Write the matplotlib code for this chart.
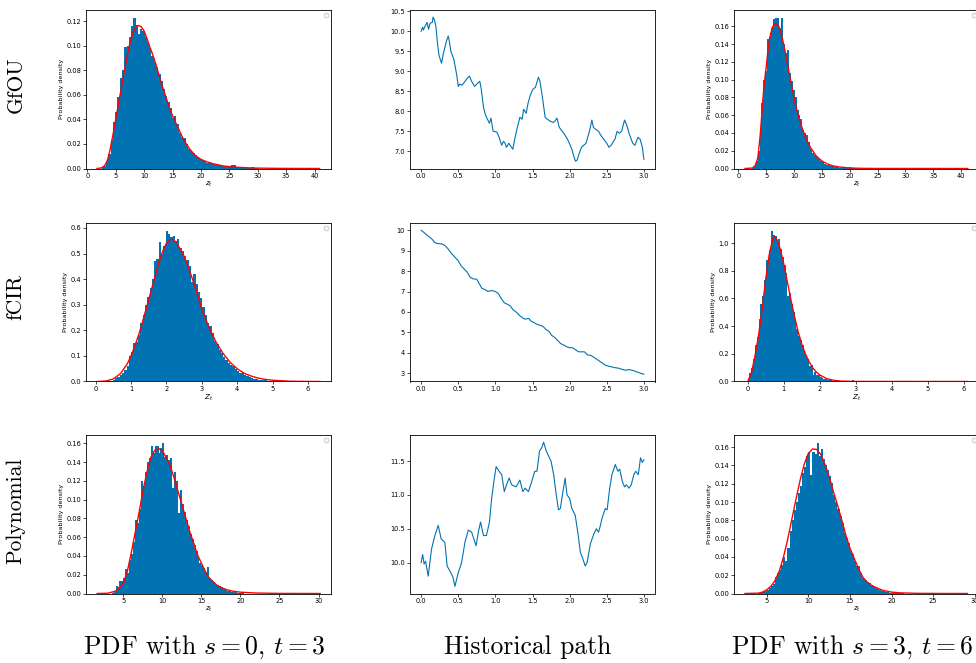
import numpy as np
import matplotlib
matplotlib.use("Agg")
import matplotlib.pyplot as plt
from matplotlib.ticker import MultipleLocator

BLUE = '#0173B2'

# ---- GfOU, PDF s=0 t=3 ----
gfou0_start, gfou0_width = 2.5, 0.4
gfou0_hist = [0.001, 0.002, 0.006, 0.012, 0.023, 0.038, 0.046, 0.058, 0.074, 0.080,
              0.099, 0.100, 0.107, 0.116, 0.123, 0.117, 0.110, 0.114, 0.112, 0.107,
              0.103, 0.098, 0.092, 0.087, 0.083, 0.077, 0.071, 0.065, 0.059, 0.054,
              0.049, 0.041, 0.043, 0.036, 0.029, 0.026, 0.025, 0.020, 0.016, 0.014,
              0.013, 0.011, 0.0095, 0.008, 0.007, 0.006, 0.0045, 0.005, 0.004, 0.0035,
              0.003, 0.0025, 0.0022, 0.002, 0.0018, 0.0017, 0.0022, 0.0032, 0.0028, 0.0012,
              0.001, 0.0008, 0.0006, 0.0005, 0.0004, 0.0006, 0.0009, 0.0003, 0.0002]
gfou0_x = [1.7, 2.5, 3.0, 3.5, 4.0, 4.5, 5.0, 5.5, 6.0, 6.5, 7.0, 7.5, 8.0, 8.5, 9.0,
           9.5, 10.0, 10.5, 11.0, 11.5, 12.0, 12.5, 13.0, 13.5, 14.0, 14.5, 15.0, 16.0,
           17.0, 18.0, 19.0, 20.0, 21.0, 22.0, 24.0, 26.0, 28.0, 30.0, 34.0, 40.9]
gfou0_pdf = [0.0, 0.0005, 0.002, 0.006, 0.015, 0.027, 0.040, 0.053, 0.066, 0.079, 0.091,
             0.102, 0.110, 0.115, 0.1165, 0.1155, 0.112, 0.106, 0.099, 0.093, 0.086,
             0.078, 0.070, 0.063, 0.056, 0.049, 0.043, 0.033, 0.023, 0.016, 0.0105,
             0.0075, 0.0055, 0.004, 0.002, 0.0011, 0.0006, 0.0003, 0.0001, 0.0]

# ---- GfOU, PDF s=3 t=6 ----
gfou3_start, gfou3_width = 2.4, 0.35
gfou3_hist = [0.001, 0.003, 0.008, 0.020, 0.040, 0.074, 0.100, 0.110, 0.146, 0.148,
              0.158, 0.168, 0.170, 0.170, 0.158, 0.170, 0.140, 0.130, 0.133, 0.108,
              0.098, 0.088, 0.080, 0.066, 0.060, 0.056, 0.043, 0.040, 0.038, 0.030,
              0.022, 0.018, 0.015, 0.013, 0.011, 0.009, 0.007, 0.005, 0.0045, 0.004,
              0.003, 0.0028, 0.002, 0.0018, 0.0015, 0.001, 0.0012, 0.002, 0.0008, 0.0006,
              0.0012, 0.0004, 0.0003, 0.0002]
gfou3_x = [1.2, 2.5, 3.0, 3.5, 3.9, 4.2, 4.5, 4.8, 5.1, 5.4, 5.8, 6.2, 6.7, 7.2, 7.7,
           8.2, 8.7, 9.2, 9.7, 10.2, 10.7, 11.2, 12.0, 13.0, 14.0, 15.0, 16.0, 17.0,
           18.0, 20.0, 22.0, 25.0, 41.2]
gfou3_pdf = [0.0, 0.0005, 0.003, 0.012, 0.036, 0.060, 0.085, 0.104, 0.120, 0.138, 0.152,
             0.160, 0.1635, 0.161, 0.152, 0.138, 0.122, 0.105, 0.089, 0.074, 0.061,
             0.050, 0.036, 0.023, 0.014, 0.0085, 0.005, 0.003, 0.0018, 0.0006, 0.0002,
             0.00005, 0.0]

gfou_t = [0.0, 0.02, 0.03, 0.06, 0.08, 0.10, 0.12, 0.15, 0.16, 0.18, 0.20, 0.22, 0.24,
          0.275, 0.30, 0.32, 0.34, 0.365, 0.38, 0.40, 0.44, 0.46, 0.48, 0.50, 0.52, 0.55,
          0.58, 0.62, 0.65, 0.68, 0.72, 0.76, 0.79, 0.81, 0.84, 0.86, 0.88, 0.92, 0.94,
          0.97, 1.02, 1.05, 1.085, 1.11, 1.13, 1.15, 1.18, 1.21, 1.235, 1.26, 1.29, 1.33,
          1.36, 1.38, 1.415, 1.44, 1.47, 1.505, 1.54, 1.58, 1.60, 1.63, 1.67, 1.70, 1.74,
          1.78, 1.80, 1.83, 1.86, 1.90, 1.94, 1.985, 2.03, 2.06, 2.08, 2.10, 2.13, 2.16,
          2.19, 2.22, 2.26, 2.30, 2.32, 2.35, 2.39, 2.42, 2.46, 2.50, 2.53, 2.56, 2.59,
          2.61, 2.64, 2.67, 2.70, 2.74, 2.77, 2.80, 2.85, 2.88, 2.92, 2.95, 2.98, 3.0]
gfou_path = [10.0, 10.1, 10.03, 10.15, 10.22, 10.05, 10.2, 10.22, 10.35, 10.28, 10.1,
             9.7, 9.4, 9.2, 9.45, 9.6, 9.75, 9.88, 9.75, 9.5, 9.3, 9.1, 8.9, 8.62, 8.68,
             8.65, 8.72, 8.82, 8.88, 8.75, 8.62, 8.7, 8.75, 8.55, 8.1, 7.95, 7.85, 7.7,
             7.83, 7.5, 7.48, 7.35, 7.15, 7.25, 7.2, 7.1, 7.2, 7.12, 7.05, 7.3, 7.55, 7.85,
             7.8, 8.05, 7.95, 8.2, 8.4, 8.55, 8.6, 8.85, 8.75, 8.4, 7.85, 7.8, 7.75, 7.72,
             7.75, 7.83, 7.6, 7.5, 7.4, 7.25, 7.05, 6.85, 6.75, 6.78, 6.95, 7.1, 7.15,
             7.2, 7.45, 7.78, 7.6, 7.55, 7.5, 7.4, 7.3, 7.2, 7.1, 7.15, 7.25, 7.3, 7.5,
             7.45, 7.5, 7.78, 7.65, 7.45, 7.2, 7.15, 7.35, 7.3, 7.1, 6.8]

# ---- fCIR ----
fcir0_start, fcir0_width = 0.42, 0.065
fcir0_hist = [0.003, 0.006, 0.012, 0.018, 0.025, 0.032, 0.045, 0.06, 0.10, 0.115,
              0.15, 0.155, 0.18, 0.23, 0.26, 0.30, 0.33, 0.365, 0.40, 0.47,
              0.48, 0.545, 0.50, 0.53, 0.59, 0.575, 0.565, 0.57, 0.548, 0.558,
              0.52, 0.51, 0.49, 0.475, 0.45, 0.39, 0.42, 0.38, 0.35, 0.325,
              0.29, 0.26, 0.23, 0.215, 0.19, 0.16, 0.145, 0.125, 0.11, 0.095,
              0.085, 0.072, 0.064, 0.06, 0.05, 0.04, 0.034, 0.036, 0.024, 0.02,
              0.016, 0.013, 0.011, 0.009, 0.007, 0.007, 0.005, 0.004, 0.003, 0.002]
fcir0_x = [0.045, 0.3, 0.5, 0.7, 0.9, 1.0, 1.1, 1.2, 1.3, 1.4, 1.5, 1.6, 1.7, 1.8, 1.9,
           2.0, 2.1, 2.2, 2.3, 2.4, 2.5, 2.6, 2.7, 2.8, 2.9, 3.0, 3.2, 3.4, 3.6, 3.8,
           4.0, 4.2, 4.4, 4.6, 4.8, 5.0, 5.5, 6.34]
fcir0_pdf = [0.0, 0.002, 0.01, 0.03, 0.07, 0.10, 0.135, 0.175, 0.22, 0.27, 0.32, 0.37,
             0.42, 0.47, 0.51, 0.54, 0.555, 0.555, 0.54, 0.515, 0.49, 0.455, 0.415, 0.375,
             0.33, 0.285, 0.212, 0.155, 0.11, 0.075, 0.05, 0.032, 0.021, 0.013, 0.008,
             0.005, 0.001, 0.0]

fcir3_start, fcir3_width = 0.0, 0.05
fcir3_hist = [0.01, 0.06, 0.10, 0.16, 0.26, 0.32, 0.45, 0.56, 0.62, 0.73,
              0.88, 0.89, 0.95, 1.09, 1.06, 1.05, 1.00, 1.03, 0.96, 0.90,
              0.84, 0.78, 0.62, 0.64, 0.56, 0.50, 0.44, 0.38, 0.33, 0.30,
              0.26, 0.22, 0.19, 0.16, 0.11, 0.12, 0.05, 0.07, 0.05, 0.045,
              0.035, 0.028, 0.02, 0.018, 0.012, 0.01, 0.008, 0.006, 0.004, 0.003,
              0.002, 0.002, 0.001, 0.001, 0.0, 0.0, 0.0, 0.0, 0.008]
fcir3_x = [0.0, 0.1, 0.2, 0.3, 0.4, 0.5, 0.6, 0.7, 0.75, 0.8, 0.9, 1.0, 1.1, 1.2, 1.3,
           1.4, 1.5, 1.6, 1.7, 1.8, 1.9, 2.0, 2.2, 2.4, 2.6, 3.0, 6.1]
fcir3_pdf = [0.0, 0.058, 0.18, 0.33, 0.52, 0.74, 0.92, 1.035, 1.045, 1.03, 0.96, 0.85,
             0.72, 0.59, 0.47, 0.36, 0.27, 0.20, 0.145, 0.10, 0.07, 0.047, 0.02, 0.008,
             0.003, 0.0005, 0.0]

fcir_t = [0.0, 0.05, 0.10, 0.15, 0.18, 0.22, 0.28, 0.32, 0.36, 0.40, 0.45, 0.50, 0.54,
          0.58, 0.62, 0.66, 0.70, 0.75, 0.78, 0.82, 0.86, 0.90, 0.95, 1.00, 1.04, 1.08,
          1.12, 1.16, 1.20, 1.24, 1.28, 1.32, 1.36, 1.40, 1.45, 1.48, 1.52, 1.56, 1.60,
          1.64, 1.68, 1.72, 1.76, 1.80, 1.84, 1.88, 1.92, 1.96, 2.00, 2.04, 2.08, 2.12,
          2.16, 2.20, 2.24, 2.28, 2.32, 2.36, 2.40, 2.44, 2.48, 2.52, 2.56, 2.60, 2.66,
          2.70, 2.75, 2.80, 2.84, 2.88, 2.92, 2.96, 3.00]
fcir_path = [10.0, 9.85, 9.7, 9.55, 9.4, 9.35, 9.33, 9.25, 9.1, 8.9, 8.7, 8.5, 8.25,
             8.1, 7.95, 7.7, 7.62, 7.6, 7.4, 7.15, 7.1, 7.0, 7.05, 7.0, 6.9, 6.65, 6.45,
             6.38, 6.3, 6.1, 6.0, 5.85, 5.72, 5.65, 5.68, 5.55, 5.48, 5.4, 5.35, 5.3,
             5.15, 5.05, 4.85, 4.75, 4.6, 4.45, 4.38, 4.3, 4.25, 4.25, 4.15, 4.05, 4.05,
             4.05, 3.9, 3.88, 3.8, 3.7, 3.6, 3.5, 3.4, 3.35, 3.32, 3.28, 3.25, 3.2, 3.15,
             3.18, 3.15, 3.1, 3.05, 3.0, 2.95]

# ---- Polynomial ----
poly0_start, poly0_width = 3.5, 0.25
poly0_hist = [0.001, 0.003, 0.008, 0.007, 0.013, 0.013, 0.017, 0.026, 0.022, 0.036,
              0.042, 0.055, 0.078, 0.075, 0.090, 0.120, 0.115, 0.130, 0.140, 0.145,
              0.157, 0.150, 0.157, 0.157, 0.150, 0.155, 0.161, 0.146, 0.148, 0.142,
              0.145, 0.112, 0.130, 0.120, 0.086, 0.110, 0.095, 0.087, 0.078, 0.072,
              0.063, 0.058, 0.052, 0.045, 0.038, 0.033, 0.030, 0.027, 0.023, 0.028,
              0.016, 0.014, 0.012, 0.010, 0.009, 0.008, 0.007, 0.006, 0.004, 0.003,
              0.003, 0.002, 0.002, 0.0015, 0.001, 0.001, 0.0008, 0.0005]
poly0_x = [1.64, 3.0, 4.0, 4.5, 5.0, 5.5, 6.0, 6.5, 7.0, 7.5, 8.0, 8.5, 9.0, 9.5, 10.0,
           10.5, 11.0, 11.5, 12.0, 12.5, 13.0, 13.5, 14.0, 14.5, 15.0, 15.5, 16.0, 17.0,
           18.0, 19.0, 20.0, 22.0, 25.0, 30.2]
poly0_pdf = [0.0, 0.0003, 0.0025, 0.006, 0.011, 0.0235, 0.043, 0.0645, 0.086, 0.109,
             0.129, 0.1447, 0.1525, 0.1547, 0.152, 0.1447, 0.136, 0.1233, 0.109, 0.0948,
             0.0805, 0.066, 0.054, 0.041, 0.0324, 0.0235, 0.0164, 0.0086, 0.0046, 0.0025,
             0.0014, 0.0005, 0.0001, 0.0]

poly3_start, poly3_width = 4.0, 0.25
poly3_hist = [0.0005, 0.001, 0.002, 0.003, 0.004, 0.006, 0.008, 0.010, 0.018, 0.022,
              0.026, 0.031, 0.040, 0.036, 0.050, 0.068, 0.080, 0.091, 0.100, 0.110,
              0.118, 0.132, 0.138, 0.150, 0.155, 0.130, 0.155, 0.153, 0.165, 0.150,
              0.158, 0.147, 0.140, 0.135, 0.128, 0.121, 0.108, 0.100, 0.092, 0.085,
              0.077, 0.066, 0.061, 0.055, 0.046, 0.043, 0.036, 0.030, 0.030, 0.022,
              0.017, 0.015, 0.013, 0.011, 0.009, 0.008, 0.006, 0.005, 0.004, 0.003,
              0.0025, 0.002, 0.0015, 0.001, 0.001, 0.0008, 0.0005, 0.0004, 0.0006, 0.0003]
poly3_x = [2.4, 4.0, 4.5, 5.0, 5.5, 6.0, 6.5, 7.0, 7.5, 8.0, 8.5, 9.0, 9.5, 10.0, 10.5,
           11.0, 11.5, 12.0, 12.5, 13.0, 13.5, 14.0, 14.5, 15.0, 15.5, 16.0, 16.5, 17.0,
           17.5, 18.0, 19.0, 20.0, 21.0, 23.0, 26.0, 29.1]
poly3_pdf = [0.0, 0.0004, 0.0015, 0.004, 0.0077, 0.014, 0.024, 0.039, 0.058, 0.080,
             0.102, 0.123, 0.141, 0.153, 0.158, 0.1575, 0.152, 0.141, 0.128, 0.112,
             0.097, 0.081, 0.064, 0.0497, 0.0387, 0.0278, 0.0186, 0.013, 0.0095, 0.007,
             0.0033, 0.0015, 0.0007, 0.0002, 0.00003, 0.0]

poly_t = [0.0, 0.02, 0.04, 0.06, 0.095, 0.14, 0.185, 0.23, 0.27, 0.32, 0.35, 0.40, 0.43,
          0.455, 0.50, 0.545, 0.59, 0.635, 0.68, 0.74, 0.77, 0.80, 0.84, 0.88, 0.92,
          0.95, 0.98, 1.01, 1.05, 1.085, 1.12, 1.15, 1.185, 1.22, 1.28, 1.33, 1.37, 1.40,
          1.445, 1.49, 1.53, 1.56, 1.595, 1.625, 1.65, 1.685, 1.715, 1.75, 1.785, 1.82,
          1.85, 1.875, 1.91, 1.94, 1.965, 2.0, 2.03, 2.075, 2.11, 2.145, 2.18, 2.21,
          2.235, 2.28, 2.325, 2.36, 2.39, 2.415, 2.435, 2.48, 2.505, 2.54, 2.57, 2.615,
          2.65, 2.675, 2.71, 2.74, 2.765, 2.8, 2.83, 2.865, 2.89, 2.925, 2.955, 2.98, 3.0]
poly_path = [10.0, 10.12, 9.98, 10.02, 9.8, 10.2, 10.4, 10.55, 10.35, 10.3, 9.95, 9.85,
             9.78, 9.65, 9.85, 10.0, 10.3, 10.48, 10.45, 10.25, 10.45, 10.6, 10.4, 10.4,
             10.6, 10.95, 11.2, 11.42, 11.35, 11.3, 11.05, 11.15, 11.25, 11.15, 11.12,
             11.22, 11.05, 11.1, 11.05, 11.2, 11.35, 11.35, 11.65, 11.7, 11.78, 11.65,
             11.58, 11.5, 11.3, 11.0, 10.78, 10.8, 11.05, 11.25, 11.0, 10.95, 10.8, 10.7,
             10.45, 10.15, 10.05, 9.95, 10.0, 10.28, 10.42, 10.5, 10.45, 10.55, 10.65,
             10.8, 10.78, 11.1, 11.3, 11.45, 11.35, 11.38, 11.2, 11.12, 11.15, 11.1, 11.15,
             11.3, 11.35, 11.3, 11.55, 11.48, 11.52]

row_names = ['GfOU', 'fCIR', 'Polynomial']
col_titles = ['PDF with $s=0$, $t=3$', 'Historical path', 'PDF with $s=3$, $t=6$']


def style(ax, xstep, ystep):
    ax.xaxis.set_major_locator(MultipleLocator(xstep))
    ax.yaxis.set_major_locator(MultipleLocator(ystep))
    ax.tick_params(labelsize=4.8, length=2, width=0.5, pad=1.5)
    for s in ax.spines.values():
        s.set_linewidth(0.6)


def draw_hist(ax, start, width, heights, cx, cy, xlim, xstep, ystep, xlab):
    edges = start + width * np.arange(len(heights))
    ax.bar(edges, heights, width=width, align='edge', color=BLUE, linewidth=0)
    ax.plot(cx, cy, color='red', lw=1.0)
    ax.set_xlim(*xlim)
    ax.set_xlabel(xlab, fontsize=5.2, labelpad=0.5)
    ax.set_ylabel('Probability density', fontsize=4.6, labelpad=1.5)
    ax.legend(handles=[], loc='upper right', fontsize=4)
    style(ax, xstep, ystep)


def draw_path(ax, t, v, ystep):
    ax.plot(t, v, color=BLUE, lw=0.8)
    style(ax, 0.5, ystep)


fig = plt.figure(figsize=(9.76, 6.63), dpi=100)
W, H = 976.0, 663.0
lefts = [86, 410, 734]
tops = [10, 223, 435]
aw, ah = 245, 158.5
axs = [[fig.add_axes([l / W, 1 - (t + ah) / H, aw / W, ah / H]) for l in lefts] for t in tops]

draw_hist(axs[0][0], gfou0_start, gfou0_width, gfou0_hist, gfou0_x, gfou0_pdf,
          (-0.23, 42.9), 5, 0.02, '$z_t$')
draw_path(axs[0][1], gfou_t, gfou_path, 0.5)
draw_hist(axs[0][2], gfou3_start, gfou3_width, gfou3_hist, gfou3_x, gfou3_pdf,
          (-0.78, 43.2), 5, 0.02, '$z_t$')

draw_hist(axs[1][0], fcir0_start, fcir0_width, fcir0_hist, fcir0_x, fcir0_pdf,
          (-0.27, 6.65), 1, 0.1, '$Z_t$')
draw_path(axs[1][1], fcir_t, fcir_path, 1)
draw_hist(axs[1][2], fcir3_start, fcir3_width, fcir3_hist, fcir3_x, fcir3_pdf,
          (-0.38, 6.42), 1, 0.2, '$Z_t$')

draw_hist(axs[2][0], poly0_start, poly0_width, poly0_hist, poly0_x, poly0_pdf,
          (0.21, 31.6), 5, 0.02, '$z_t$')
draw_path(axs[2][1], poly_t, poly_path, 0.5)
draw_hist(axs[2][2], poly3_start, poly3_width, poly3_hist, poly3_x, poly3_pdf,
          (1.08, 30.5), 5, 0.02, '$z_t$')

# row labels and column titles, Computer Modern look
row_y = [85, 297, 511]
for name, y in zip(row_names, row_y):
    fig.text(16 / W, 1 - y / H, name, rotation=90, ha='center', va='center',
             fontsize=15.5, fontfamily='cmr10')
col_x = [204, 528, 852]
for title, x in zip(col_titles, col_x):
    fig.text(x / W, 1 - 647 / H, title, ha='center', va='center', fontsize=18.5,
             fontfamily='cmr10', math_fontfamily='cm')

plt.savefig('out.png', dpi=100)
